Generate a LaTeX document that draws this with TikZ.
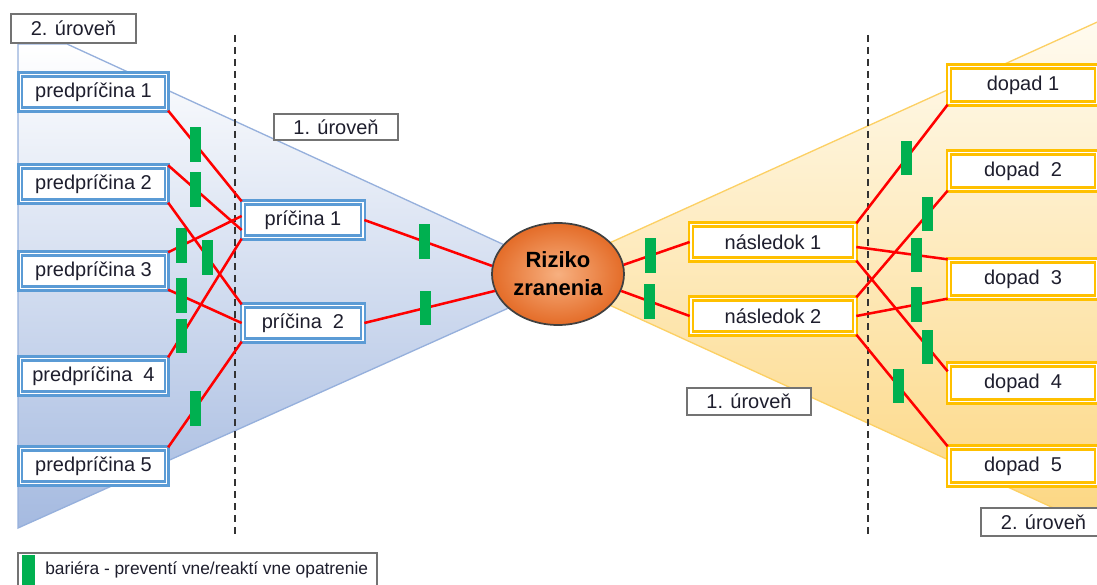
\documentclass[tikz,border=0pt]{standalone}
\usepackage{fontspec}
\setmainfont{Liberation Sans}
\usetikzlibrary{shapes.geometric,calc}

\definecolor{boxblue}{RGB}{91,155,213}
\definecolor{boxgold}{RGB}{255,192,0}
\definecolor{bargreen}{RGB}{0,176,80}
\definecolor{edgeblue}{RGB}{150,176,220}
\definecolor{fillblue}{RGB}{165,186,224}
\definecolor{edgegold}{RGB}{252,208,100}
\definecolor{lightgold}{RGB}{255,251,240}
\definecolor{fillgold}{RGB}{252,214,128}
\definecolor{riskin}{RGB}{247,176,128}
\definecolor{riskout}{RGB}{228,108,40}
\definecolor{txt}{RGB}{30,30,45}

\begin{document}
\begin{tikzpicture}[
    x=0.75pt, y=-0.75pt,
    font=\fontsize{15}{18}\selectfont, text=txt,
    dbox/.style={rectangle, draw=#1, double=white, double distance=0.8pt, line width=2pt, fill=white, inner sep=0pt, minimum height=26pt},
    precause/.style={dbox=boxblue, minimum width=110pt},
    cause/.style={dbox=boxblue, minimum width=90pt},
    result/.style={dbox=boxgold, minimum width=123pt},
    impact/.style={dbox=boxgold, minimum width=111pt, minimum height=27.5pt},
    risk/.style={ellipse, draw=black!75, line width=1.3pt, inner color=riskin, outer color=riskout, minimum width=99pt, minimum height=76.5pt, inner sep=0pt, align=center, text=black, font=\fontsize{16.5}{21}\selectfont\bfseries},
    level/.style={rectangle, draw=black!55, line width=1.5pt, fill=white, inner sep=0pt, minimum width=93.5pt},
    barrier/.style={rectangle, fill=bargreen, inner sep=0pt, minimum width=8.25pt, minimum height=26pt},
    cut/.style={draw=black!80, line width=2.2pt, dash pattern=on 5.5pt off 3.5pt},
    every edge/.style={draw, red, line width=1.9pt}
]
\useasboundingbox (0,0) rectangle (1097,585);

% Areas
\draw[top color=white, bottom color=fillblue, draw=edgeblue, line width=1pt]
    (18,44) -- (67,44) -- (522,253) -- (522,302) -- (18,528) -- cycle;
\draw[top color=lightgold, bottom color=fillgold, draw=edgegold, line width=1pt]
    (605,245) -- (1104,19) -- (1104,531) -- (605,303) -- cycle;

% Cuts
\coordinate (cutL top) at (235,35);
\coordinate (cutL bot) at (235,537);
\coordinate (cutR top) at (868,35);
\coordinate (cutR bot) at (868,537);
\draw[cut] (cutL top) -- (cutL bot);
\draw[cut] (cutR top) -- (cutR bot);

% Nodes
\node[precause] (pp1) at (93.5,92) {predpríčina 1};
\node[precause] (pp2) at (93.5,184) {predpríčina 2};
\node[precause] (pp3) at (93.5,271) {predpríčina 3};
\node[precause] (pp4) at (93.5,376) {predpríčina\ \ 4};
\node[precause] (pp5) at (93.5,466) {predpríčina 5};

\node[cause] (c1) at (303,220) {príčina 1};
\node[cause] (c2) at (303,323) {príčina\ \ 2};

\node[risk] (R) at (558,274) {Riziko\\zranenia};

\node[result] (n1) at (773,242) {následok 1};
\node[result] (n2) at (773,316) {následok 2};

\node[impact] (d1) at (1023,85) {dopad 1};
\node[impact] (d2) at (1023,171) {dopad\ \ 2};
\node[impact] (d3) at (1023,279) {dopad\ \ 3};
\node[impact] (d4) at (1023,383) {dopad\ \ 4};
\node[impact] (d5) at (1023,466) {dopad\ \ 5};

\node[level, minimum height=21.5pt] (lv2a) at (73.5,28.5) {2. úroveň};
\node[level, minimum height=19pt] (lv1a) at (336,127) {1. úroveň};
\node[level, minimum height=20pt] (lv1b) at (749,401.5) {1. úroveň};
\node[level, minimum height=21pt] (lv2b) at (1043.5,522) {2. úroveň};

% Edges
\path (pp1.south east) edge node[barrier, pos=.37] {} (c1.north west);
\path (pp2.north east) edge node[barrier, pos=.37] {} ($(c1.west)+(0,10)$);
\path (pp3.north east) edge node[barrier, pos=.18] {} ($(c1.west)+(0,-4)$);
\path (pp2.south east) edge node[barrier, pos=.54] {} (c2.north west);
\path (pp3.south east) edge node[barrier, pos=.18] {} (c2.west);
\path (pp4.north east) edge node[barrier, pos=.18] {} (c1.south west);
\path (pp5.north east) edge node[barrier, pos=.37] {} (c2.south west);

\path (c1.east) edge node[barrier, pos=.47] {} (R.173);
\path (c2.east) edge node[barrier, pos=.47] {} (R.195);
\path (R.8) edge node[barrier, pos=.4] {} (n1.west);
\path (R.345) edge node[barrier, pos=.42] {} (n2.west);

\path (n1.north east) edge node[barrier, pos=.55] {} (d1.south west);
\path (n2.north east) edge node[barrier, pos=.78] {} (d2.south west);
\path ($(n1.east)+(0,5)$) edge node[barrier, pos=.66] {} (d3.north west);
\path (n1.south east) edge node[barrier, pos=.78] {} ($(d4.north west)+(0,8)$);
\path (n2.east) edge node[barrier, pos=.66] {} (d3.south west);
\path (n2.south east) edge node[barrier, pos=.46] {} (d5.north west);

% Legend
\node[level, minimum width=269.5pt, minimum height=29pt] (key) at (197.5,572.5) {};
\node[barrier, minimum width=9.75pt, minimum height=28pt] (keybar) at (28.5,574) {};
\node[anchor=west, inner sep=0pt, font=\fontsize{13}{15}\selectfont] (keytext) at (45,570) {bariéra - preventí vne/reaktí vne opatrenie};

\end{tikzpicture}
\end{document}
